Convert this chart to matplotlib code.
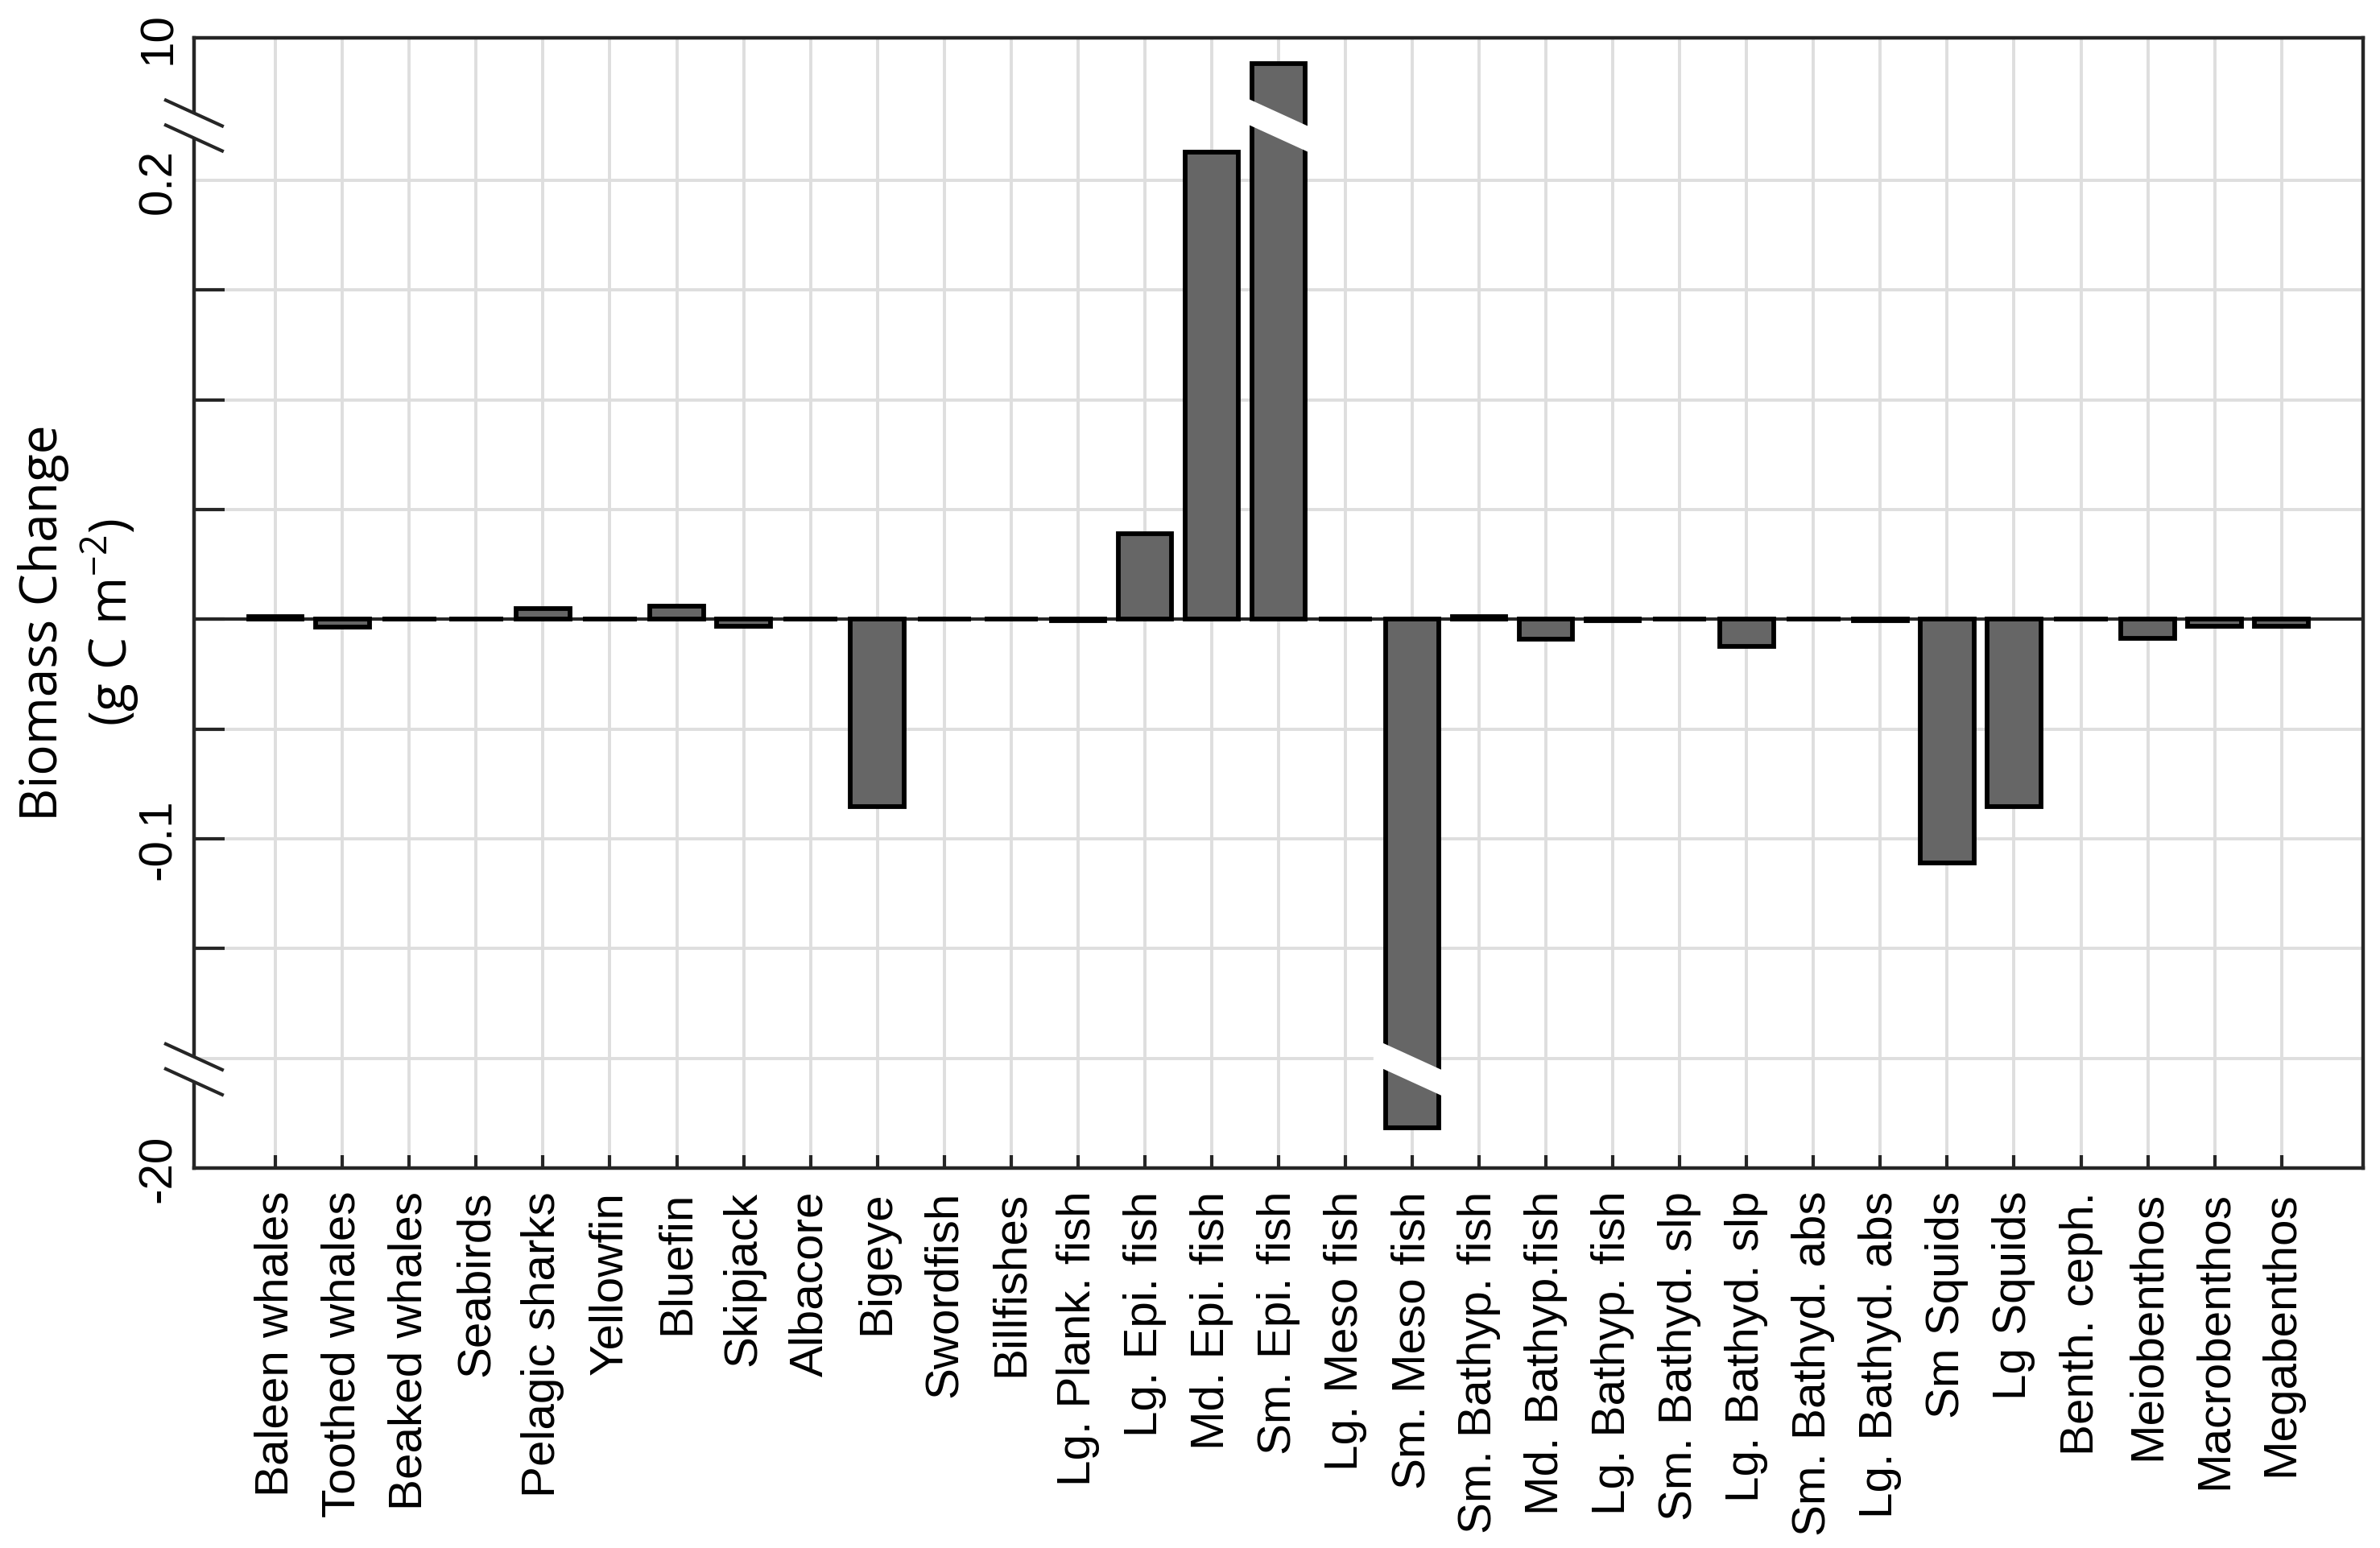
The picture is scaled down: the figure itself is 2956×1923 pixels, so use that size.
import numpy as np
import matplotlib
matplotlib.use('Agg')
import matplotlib.pyplot as plt
from matplotlib.lines import Line2D
from matplotlib.patches import Polygon
from matplotlib.transforms import IdentityTransform

plt.rcParams['font.family'] = ['Liberation Sans', 'DejaVu Sans']
plt.rcParams['mathtext.default'] = 'regular'

# data (g C m-2)
groups = ['Baleen whales', 'Toothed whales', 'Beaked whales', 'Seabirds',
          'Pelagic sharks', 'Yellowfin', 'Bluefin', 'Skipjack', 'Albacore',
          'Bigeye', 'Swordfish', 'Billfishes', 'Lg. Plank. fish',
          'Lg. Epi. fish', 'Md. Epi. fish', 'Sm. Epi. fish', 'Lg. Meso fish',
          'Sm. Meso fish', 'Sm. Bathyp. fish', 'Md. Bathyp.fish',
          'Lg. Bathyp. fish', 'Sm. Bathyd. slp', 'Lg. Bathyd. slp',
          'Sm. Bathyd. abs', 'Lg. Bathyd. abs', 'Sm Squids', 'Lg Squids',
          'Benth. ceph.', 'Meiobenthos', 'Macrobenthos', 'Megabenthos']
biomass_change = [0.0011, -0.0036, 0.0003, 0.0003, 0.0048, 0.0003, 0.0060,
                  -0.0030, 0.0003, -0.0854, 0.0003, 0.0002, -0.0005,
                  0.0390, 0.2129, 7.1, 0.0002, -11.9, 0.0011, -0.0089,
                  -0.0004, 0.0003, -0.0124, 0.0002, -0.0005, -0.1110,
                  -0.0854, 0.0002, -0.0086, -0.0030, -0.0032]

ytick_vals = [-20, -0.2, -0.15, -0.1, -0.05, 0, 0.05, 0.1, 0.15, 0.2, 10]
ytick_txt = ['-20', '', '', '-0.1', '', '', '', '', '', '0.2', '10']
no_mark = [-20, -0.2, 0.2, 10]

# broken y axis: linear in the middle, squeezed beyond the breaks
BRK_HI, Y_TOP, HI_SPAN = 0.225, 10.0, 0.040
BRK_LO, Y_BOT, LO_SPAN = -0.205, -20.0, 0.045
k_hi = HI_SPAN / (Y_TOP - BRK_HI)
k_lo = LO_SPAN / (BRK_LO - Y_BOT)


def fwd(v):
    v = np.asarray(v, dtype=float)
    return np.where(v > BRK_HI, BRK_HI + (v - BRK_HI) * k_hi,
                    np.where(v < BRK_LO, BRK_LO + (v - BRK_LO) * k_lo, v))


def inv(u):
    u = np.asarray(u, dtype=float)
    return np.where(u > BRK_HI, BRK_HI + (u - BRK_HI) / k_hi,
                    np.where(u < BRK_LO, BRK_LO + (u - BRK_LO) / k_lo, u))


DARK = '#262626'
SLOPE = -32 / 70  # slant of the break marks, pixels


def band(cx, cy, hw, hh):
    return [(cx - hw, cy - SLOPE * hw + hh), (cx + hw, cy + SLOPE * hw + hh),
            (cx + hw, cy + SLOPE * hw - hh), (cx - hw, cy - SLOPE * hw - hh)]


fig = plt.figure(figsize=(14.78, 9.62), dpi=200)
ax = fig.add_axes([0.0815, 0.2453, 0.9114, 0.7298])
ax.set_yscale('function', functions=(fwd, inv))

x = np.arange(1, len(groups) + 1)
ax.bar(x, biomass_change, width=0.8, color='#666666', edgecolor='black',
       linewidth=2.1, zorder=3)
ax.axhline(0, color=DARK, lw=1.5, zorder=2.5)

ax.set_xlim(-0.22, 32.22)
ax.set_ylim(Y_BOT, Y_TOP)
ax.set_xticks(x)
ax.set_xticklabels(groups, rotation=90, fontsize=21)
ax.set_yticks(ytick_vals)
ax.set_yticklabels(ytick_txt, rotation=90, va='center', fontsize=21)
ax.tick_params(axis='x', direction='in', length=5.8, width=1.5, color=DARK, pad=10)
ax.tick_params(axis='y', direction='in', length=13.7, width=1.5, color=DARK, pad=6)
for t, v in zip(ax.yaxis.get_major_ticks(), ytick_vals):
    if v in no_mark:
        t.tick1line.set_visible(False)
ax.grid(True, color='#dedede', lw=1.4)
ax.set_axisbelow(True)
for s in ax.spines.values():
    s.set_color(DARK)
    s.set_linewidth(1.6)

fig.text(0.0332, 0.598, 'Biomass Change\n(g C m$^{-2}$)', rotation=90,
         ha='center', va='center', multialignment='center', fontsize=23,
         family=['Open Sans', 'DejaVu Sans'])

# break marks on the y axis
ident = IdentityTransform()
ax_x = ax.transAxes.transform((0, 0))[0]
for brk in (BRK_HI, BRK_LO):
    cy = ax.transData.transform((1, brk))[1]
    fig.add_artist(Polygon(band(ax_x, cy, 7, 15.5), closed=True, fc='white',
                           ec='none', transform=ident, zorder=5))
    for off in (15.5, -15.5):
        fig.add_artist(Line2D([ax_x - 35, ax_x + 35],
                              [cy + off - SLOPE * 35, cy + off + SLOPE * 35],
                              color=DARK, lw=1.5, transform=ident, zorder=6))

# white slash through the bars that pass a break
for xi, v in zip(x, biomass_change):
    if BRK_LO < v < BRK_HI:
        continue
    brk = BRK_HI if v > 0 else BRK_LO
    cx, cy = ax.transData.transform((xi, brk))
    hw = ax.transData.transform((xi + 0.4, brk))[0] - cx + 15
    fig.add_artist(Polygon(band(cx, cy, hw, 16), closed=True, fc='white',
                           ec='none', transform=ident, zorder=5))

fig.savefig('out.png', dpi=200)
